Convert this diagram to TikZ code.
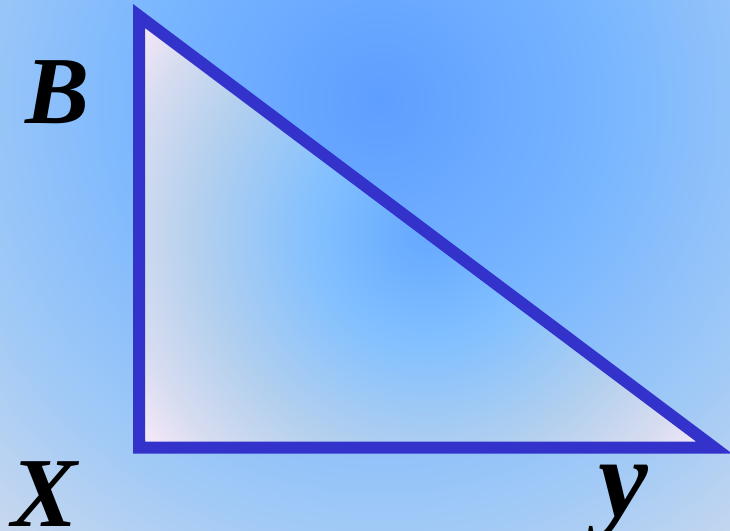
\documentclass[tikz,border=0pt]{standalone}
\usepackage{fontspec}
\setmainfont{Liberation Serif}
\usetikzlibrary{calc}

\definecolor{skyA}{HTML}{5E9EFF}
\definecolor{skyB}{HTML}{78B6FF}
\definecolor{skyC}{HTML}{A2CAF6}
\definecolor{skyD}{HTML}{C8D8EE}
\definecolor{triA}{HTML}{64A8FF}
\definecolor{triB}{HTML}{82C0FF}
\definecolor{triC}{HTML}{B4D0EE}
\definecolor{triD}{HTML}{D6DCF0}
\definecolor{triE}{HTML}{F4E8F8}
\definecolor{edgeblue}{HTML}{3333CC}

% the shaded circle's edge sits at 25bp
\pgfdeclareradialshading{skyshade}{\pgfpoint{0bp}{0bp}}{%
  color(0bp)=(skyA); color(10bp)=(skyB); color(19bp)=(skyC); color(25bp)=(skyD); color(50bp)=(skyD)}
\pgfdeclareradialshading{trishade}{\pgfpoint{0bp}{0bp}}{%
  color(0bp)=(triA); color(8bp)=(triB); color(16.5bp)=(triC); color(21.5bp)=(triD); color(25bp)=(triE); color(50bp)=(triE)}

\begin{document}
\begin{tikzpicture}[
  x=1pt, y=-1pt,
  edge/.style={draw=edgeblue, line width=12pt, line join=miter},
  vlabel/.style={font=\fontsize{#1}{#1}\selectfont\bfseries\itshape, inner sep=0pt, anchor=base},
]
\useasboundingbox (0,0) rectangle (730,530);

% background
\begin{scope}
  \clip (0,0) rectangle (730,530);
  \shade[shading=skyshade] (380,100) circle[radius=575pt];
\end{scope}

% corners of the triangle
\coordinate (B) at (139,16);
\coordinate (X) at (139,447.5);
\coordinate (Y) at (714,447.5);
\coordinate (H) at ($(B)!0.5!(Y)$);

% triangle fill
\begin{scope}
  \clip (B) -- (X) -- (Y) -- cycle;
  \shade[shading=trishade] (H) circle[radius=350pt];
\end{scope}
\draw[edge] (B) -- (X) -- (Y) -- cycle;

% labels
\node[vlabel=96] (labB) at (58,123) {B};
\node[vlabel=99] (labX) at (45,526) {X};
\node[vlabel=112] (labY) at (623,516) {y};
\end{tikzpicture}
\end{document}
